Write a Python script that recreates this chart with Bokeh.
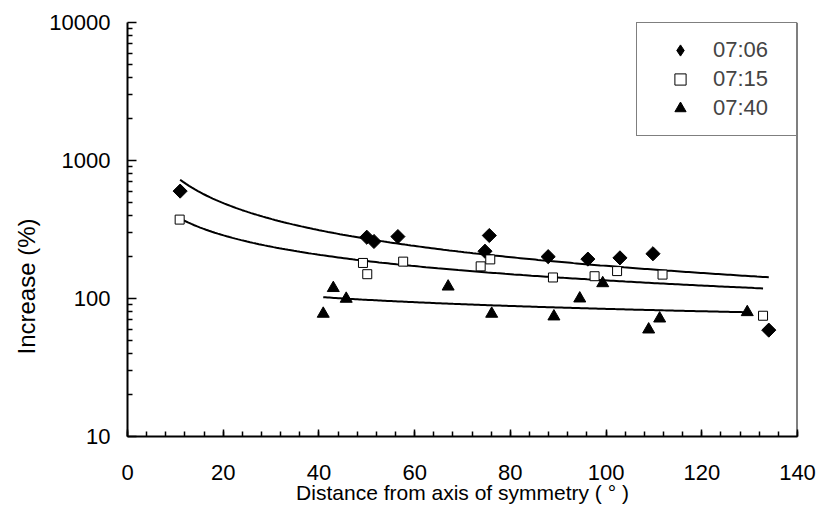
import numpy as np
from bokeh.plotting import figure
from bokeh.models import (Range1d, FixedTicker, SingleIntervalTicker, PrintfTickFormatter,
                          Legend, LegendItem, Span, Title)
from bokeh.embed import file_html
from bokeh.resources import INLINE

# ---- data ----
series_labels = ["07:06", "07:15", "07:40"]

x_0706 = [11.0, 50.0, 51.5, 56.5, 74.7, 75.6, 87.9, 96.2, 102.9, 109.8, 134.0]
y_0706 = [600, 278, 259, 281, 220, 286, 201, 193, 197, 211, 59]

x_0715 = [10.9, 49.2, 50.1, 57.6, 73.8, 75.8, 88.9, 97.6, 102.3, 111.8, 132.8]
y_0715 = [373, 181, 150, 185, 171, 192, 142, 145, 158, 149, 75]

x_0740 = [40.9, 43.0, 45.7, 67.0, 76.1, 89.1, 94.5, 99.3, 108.9, 111.2, 129.5]
y_0740 = [77.5, 119, 99.5, 122, 77.5, 74.1, 100, 129, 59.6, 71.6, 79.6]

y_ticks = [10, 100, 1000, 10000]
x_tick_interval = 20
x_range_limits = [0, 140]

FONT = "Liberation Sans"


def power_fit(xs, ys, n=200):
    """Power-law trendline (least squares in log-log space) over the data range."""
    lx, ly = np.log10(xs), np.log10(ys)
    b, a = np.polyfit(lx, ly, 1)
    xx = np.linspace(min(xs), max(xs), n)
    return xx, 10 ** (a + b * np.log10(xx))


p = figure(width=817, height=506, output_backend="svg", toolbar_location=None,
           x_range=Range1d(*x_range_limits), y_range=Range1d(y_ticks[0], y_ticks[-1]),
           y_axis_type="log",
           min_border_left=127, min_border_right=20, min_border_top=22, min_border_bottom=70)
p.grid.visible = False
p.outline_line_color = None
p.background_fill_color = "white"
p.border_fill_color = "white"

# trendlines
for xs, ys in [(x_0706, y_0706), (x_0715, y_0715), (x_0740, y_0740)]:
    fx, fy = power_fit(xs, ys)
    p.line(fx, fy, line_color="black", line_width=2)

r1 = p.scatter(x_0706, y_0706, marker="square", angle=np.pi / 4, size=10,
               fill_color="black", line_color="black")
r2 = p.scatter(x_0715, y_0715, marker="square", size=9,
               fill_color="white", line_color="black", line_width=1)
r3 = p.scatter(x_0740, y_0740, marker="triangle", size=12,
               fill_color="black", line_color="black")
# legend-only glyph for the diamonds (legend glyphs ignore the marker angle);
# a single NaN point so nothing shows in the plot area
r1_leg = p.scatter([np.nan], [np.nan], marker="diamond",
                   fill_color="black", line_color="black")

# right frame line
p.add_layout(Span(location=x_range_limits[1], dimension="height",
                  line_color="black", line_width=2))

# axes
xa = p.xaxis[0]
xa.ticker = SingleIntervalTicker(interval=x_tick_interval, num_minor_ticks=5)
xa.axis_label = "Distance from axis of symmetry ( \u00b0 )"
ya = p.yaxis[0]
ya.ticker = FixedTicker(ticks=y_ticks,
                        minor_ticks=[m * d for d in y_ticks[:-1] for m in range(2, 10)])
ya.formatter = PrintfTickFormatter(format="%d")

for ax in (xa, ya):
    ax.axis_line_color = "black"
    ax.axis_line_width = 2
    ax.major_tick_line_color = "black"
    ax.minor_tick_line_color = "black"
    ax.major_tick_line_width = 1.5
    ax.minor_tick_line_width = 1.5
    ax.major_tick_out = 0
    ax.minor_tick_out = 0
    ax.major_label_text_font = FONT
    ax.major_label_text_font_size = "22px"
    ax.major_label_text_color = "black"
    ax.axis_label_text_font = FONT
    ax.axis_label_text_font_size = "21px"
    ax.axis_label_text_font_style = "normal"
    ax.axis_label_text_color = "black"

xa.major_tick_in = 7
xa.minor_tick_in = 5
xa.major_label_standoff = 28
xa.axis_label_standoff = -2
ya.major_tick_in = 9
ya.minor_tick_in = 5
ya.major_label_standoff = 17

p.add_layout(Title(text="Increase (%)", align="left", offset=82, standoff=14,
                   text_font=FONT, text_font_size="24px", text_font_style="normal",
                   text_color="black"), "left")

legend = Legend(items=[LegendItem(label=series_labels[0], renderers=[r1_leg]),
                       LegendItem(label=series_labels[1], renderers=[r2]),
                       LegendItem(label=series_labels[2], renderers=[r3])],
                location="top_right", margin=0, padding=13, spacing=1,
                glyph_width=60, glyph_height=28, label_height=28, label_width=70,
                label_standoff=3,
                label_text_font=FONT, label_text_font_size="22px",
                border_line_color="black", border_line_width=1,
                background_fill_color="white", background_fill_alpha=1.0)
p.add_layout(legend)

open("out.html", "w").write(file_html(p, INLINE))
